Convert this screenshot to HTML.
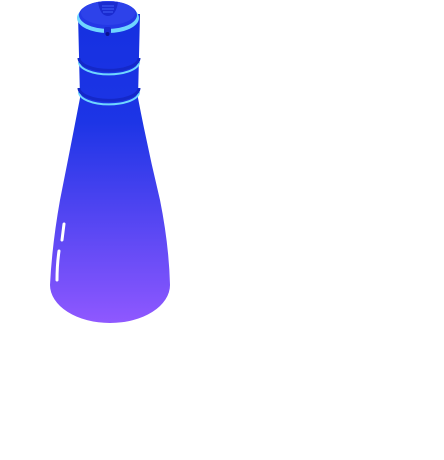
<!DOCTYPE html>
<html><head><meta charset="utf-8"><style>
html,body{margin:0;padding:0;background:#fff;width:444px;height:460px;overflow:hidden}
svg{display:block}
</style></head><body>
<svg width="444" height="460" viewBox="0 0 444 460">
<defs>
<linearGradient id="body" x1="0" y1="0" x2="0" y2="1">
<stop offset="0" stop-color="#1530e0"/>
<stop offset="0.35" stop-color="#1d35e6"/>
<stop offset="1" stop-color="#8f58ff"/>
</linearGradient>
</defs>
<g>
<path d="M78 14 L80 98 Q70 150 60 200 Q52 245 50 285 A60 38 0 0 0 170 285 Q169 245 160 200 Q148 150 138 98 L140 14 Z" fill="url(#body)"/>
<path d="M79 62 A29 12 0 0 0 139 62" fill="none" stroke="#6fd6ff" stroke-width="2"/>
<path d="M79 58 A29 12 0 0 0 139 58" fill="none" stroke="#1428c8" stroke-width="3"/>
<path d="M79 92 A29 12 0 0 0 139 92" fill="none" stroke="#6fd6ff" stroke-width="2"/>
<path d="M79 88 A29 12 0 0 0 139 88" fill="none" stroke="#1428c8" stroke-width="3"/>
<ellipse cx="108" cy="18" rx="31" ry="15" fill="#6fd6ff"/>
<ellipse cx="108" cy="15" rx="29" ry="14" fill="#2438e6"/>
<ellipse cx="108" cy="13" rx="27" ry="12" fill="#2d42ea"/>
<path d="M98 2 Q100 16 108 16 Q116 16 118 2 Z" fill="#1a2bd0"/>
<path d="M102 6 H114 M102 9 H114 M103 12 H113" stroke="#3a55f0" stroke-width="1.2"/>
<rect x="104" y="27" width="7" height="7" rx="2" fill="#1a2bd0"/>
<circle cx="107.5" cy="34" r="2" fill="#0a1490"/>
<path d="M64 224 L62 240" stroke="#fff" stroke-width="3" stroke-linecap="round"/>
<path d="M59 251 Q57 265 57 280" stroke="#fff" stroke-width="3" stroke-linecap="round"/>
</g>
</svg>
</body></html>
